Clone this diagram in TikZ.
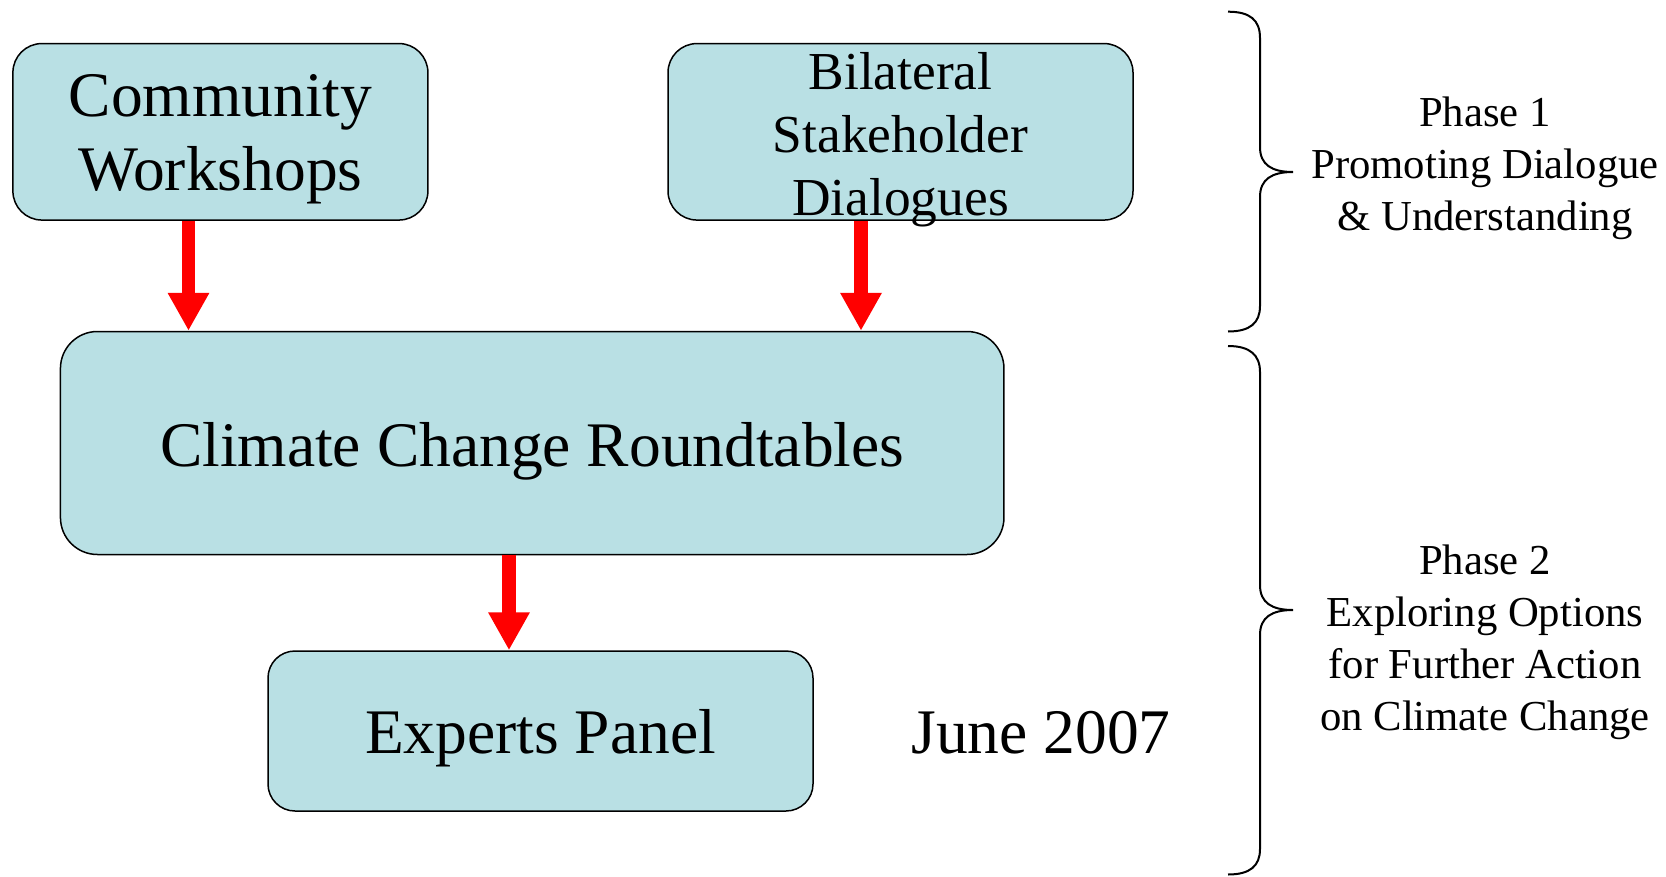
\documentclass[tikz,border=0pt]{standalone}
\usepackage{fontspec}
\setmainfont{Liberation Serif}
\usetikzlibrary{arrows.meta}
\definecolor{boxfill}{RGB}{185,224,228}
\definecolor{arrred}{RGB}{255,0,0}
\begin{document}
\begin{tikzpicture}[x=1bp,y=-1bp,
  box/.style={draw=black, line width=1.5bp, fill=boxfill, inner sep=0pt, anchor=center},
  boxlabel/.style={align=center, inner sep=0pt, yshift=-#1},
  bigtext/.style={font=\fontsize{63.5bp}{74bp}\selectfont},
  midtext/.style={font=\fontsize{53.4bp}{63bp}\selectfont},
  redarrow/.style={draw=arrred, line width=13.4bp, -{Triangle[width=39bp,length=38bp,fill=arrred]}},
  phasetext/.style={font=\fontsize{42.7bp}{52bp}\selectfont, align=center, inner sep=0pt},
  bracestyle/.style={draw=black, line width=2bp}
]
\fill[white] (0,0) rectangle (1666,876);
\useasboundingbox (0,0) rectangle (1666,876);

\node[box, rounded corners=29bp, minimum width=415bp, minimum height=176.5bp,
  label={[boxlabel=7bp, bigtext]center:Community\\Workshops}] (cw) at (220.4,131.8) {};
\node[box, rounded corners=29bp, minimum width=465bp, minimum height=176.5bp,
  label={[boxlabel=7.5bp, midtext]center:Bilateral\\Stakeholder\\Dialogues}] (bs) at (900.5,131.8) {};
\node[box, rounded corners=37bp, minimum width=943.5bp, minimum height=223bp,
  label={[boxlabel=8.5bp, bigtext]center:Climate Change Roundtables}] (cr) at (532.2,443) {};
\node[box, rounded corners=27bp, minimum width=545bp, minimum height=160bp,
  label={[boxlabel=7.5bp, bigtext]center:Experts Panel}] (ep) at (540.5,731) {};
\node[bigtext, inner sep=0pt] (jd) at (1041,733) {June 2007};

\coordinate (a1) at (188.5,0);
\coordinate (a2) at (861,0);
\coordinate (a3) at (509,0);
\draw[redarrow] (cw.south -| a1) -- (cr.north -| a1);
\draw[redarrow] (bs.south -| a2) -- (cr.north -| a2);
\draw[redarrow] (cr.south -| a3) -- (ep.north -| a3);

\draw[bracestyle] (1228,11.7) .. controls (1250,11.7) and (1260,20) .. (1260,38) -- (1260,147) .. controls (1260,165) and (1272,172) .. (1293,172) .. controls (1272,172) and (1260,179) .. (1260,197) -- (1260,306) .. controls (1260,323) and (1250,331.5) .. (1228,331.5);
\draw[bracestyle] (1228,346) .. controls (1250,346) and (1260,355) .. (1260,372) -- (1260,585) .. controls (1260,603) and (1272,610) .. (1293,610) .. controls (1272,610) and (1260,617) .. (1260,635) -- (1260,849) .. controls (1260,866) and (1250,874.5) .. (1228,874.5);

\node[phasetext] (p1) at (1485,168) {Phase 1\\Promoting Dialogue\\\& Understanding};
\node[phasetext] (p2) at (1485,642) {Phase 2\\Exploring Options\\for Further Action\\on Climate Change};
\end{tikzpicture}
\end{document}
